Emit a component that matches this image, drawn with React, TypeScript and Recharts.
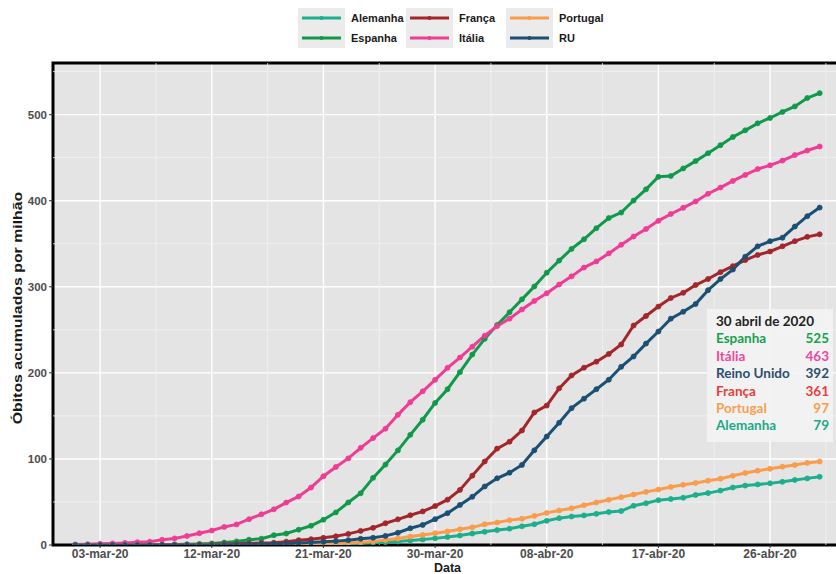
import React from "react";
import {
  CartesianGrid,
  Line,
  LineChart,
  ReferenceArea,
  ReferenceLine,
  XAxis,
  YAxis,
} from "recharts";

// one value per day, day 0 = 01-mar-2020 ... day 60 = 30-abr-2020
const ALEMANHA = [
  0, 0, 0, 0, 0, 0, 0, 0, 0.02, 0.02,
  0.04, 0.04, 0.08, 0.11, 0.13, 0.2, 0.29, 0.34, 0.53, 0.8,
  1.0, 1.13, 1.47, 1.88, 2.47, 3.2, 4.1, 5.2, 6.4, 7.7,
  9.3, 11.0, 13.3, 15.3, 17.3, 19.0, 21.7, 24.1, 28.1, 31.2,
  33.1, 34.4, 36.2, 38.3, 39.4, 45.6, 48.5, 52.1, 53.4, 54.9,
  58.2, 60.3, 63.2, 66.8, 69.0, 70.4, 71.6, 73.4, 75.6, 77.4, 79.3,
];
const ESPANHA = [
  0, 0, 0.02, 0.04, 0.06, 0.1, 0.2, 0.36, 0.6, 0.75,
  1.16, 1.84, 2.85, 4.17, 6.18, 7.3, 11.4, 13.3, 17.8, 22.3,
  29.4, 37.9, 49.4, 60.1, 78.0, 93.4, 109.9, 128.0, 145.5, 165.0,
  181.0, 200.8, 221.3, 239.5, 255.6, 270.4, 285.4, 300.4, 316.4, 330.4,
  344.0, 355.2, 368.1, 379.8, 386.2, 400.2, 413.2, 427.8, 428.7, 437.5,
  446.0, 455.2, 464.5, 474.0, 481.8, 489.9, 496.1, 503.1, 509.6, 519.3, 525.0,
];
const FRANCA = [
  0.03, 0.04, 0.06, 0.06, 0.09, 0.13, 0.16, 0.28, 0.28, 0.49,
  0.72, 0.91, 1.18, 1.36, 1.9, 2.2, 2.6, 3.9, 5.6, 6.7,
  8.4, 10.1, 12.9, 16.4, 19.9, 25.3, 29.8, 34.6, 39.0, 45.2,
  52.7, 64.0, 80.6, 97.0, 112.0, 120.0, 133.0, 154.0, 162.0, 182.0,
  197.0, 206.0, 213.0, 222.0, 233.0, 255.0, 266.0, 277.0, 287.0, 293.0,
  302.0, 309.0, 317.0, 324.0, 331.0, 337.0, 341.0, 347.0, 353.0, 358.0, 361.0,
];
const ITALIA = [
  0.56, 0.86, 1.31, 1.77, 2.45, 3.26, 3.86, 6.06, 7.67, 10.4,
  13.7, 16.8, 21.0, 23.9, 30.0, 35.7, 41.4, 49.3, 56.4, 66.8,
  79.9, 90.7, 100.6, 112.9, 124.2, 135.2, 151.2, 165.9, 178.5, 191.9,
  205.8, 217.8, 230.4, 243.1, 254.3, 263.0, 273.6, 283.6, 292.5, 302.6,
  312.1, 322.3, 329.5, 338.8, 348.8, 358.4, 367.1, 376.6, 384.6, 391.7,
  399.2, 408.1, 415.3, 423.0, 430.0, 436.8, 441.1, 446.6, 453.0, 458.3, 463.0,
];
const PORTUGAL = [
  0, 0, 0, 0, 0, 0, 0, 0, 0, 0,
  0, 0, 0, 0, 0, 0.1, 0.1, 0.2, 0.3, 0.59,
  1.18, 1.37, 2.25, 3.2, 4.2, 5.9, 7.5, 9.8, 11.7, 13.7,
  15.7, 18.3, 20.5, 24.1, 26.1, 28.9, 30.5, 33.8, 37.3, 40.1,
  42.6, 46.1, 49.4, 52.5, 55.6, 58.7, 61.7, 64.4, 67.4, 70.0,
  72.1, 74.7, 77.0, 80.4, 83.7, 86.3, 88.5, 91.0, 92.9, 95.4, 97.0,
];
const RU = [
  0, 0, 0, 0, 0.02, 0.03, 0.03, 0.05, 0.06, 0.09,
  0.12, 0.12, 0.15, 0.32, 0.53, 0.84, 1.07, 1.6, 2.2, 2.8,
  3.7, 4.5, 5.6, 7.2, 8.4, 10.6, 14.2, 19.4, 23.3, 30.0,
  37.0, 46.5, 56.0, 68.0, 77.5, 84.0, 93.0, 110.0, 126.0, 142.0,
  159.0, 170.0, 181.0, 192.0, 207.0, 219.0, 234.0, 248.0, 263.0, 271.0,
  280.0, 296.0, 309.0, 320.0, 335.0, 347.0, 353.0, 357.0, 370.0, 382.0, 392.0,
];

const X_TICKS = [2, 11, 20, 29, 38, 47, 56];
const X_LABELS = [
  "03-mar-20",
  "12-mar-20",
  "21-mar-20",
  "30-mar-20",
  "08-abr-20",
  "17-abr-20",
  "26-abr-20",
];
const X_MINOR = [6.5, 15.5, 24.5, 33.5, 42.5, 51.5, 60.5];
const Y_TICKS = [0, 100, 200, 300, 400, 500];
const Y_MINOR = [50, 150, 250, 350, 450, 550];
const X_DOMAIN: [number, number] = [-1.8, 61.8];
const Y_DOMAIN: [number, number] = [0, 560];

const SERIES = [
  { key: "alemanha", name: "Alemanha", color: "#1caf8b", values: ALEMANHA },
  { key: "espanha", name: "Espanha", color: "#10994a", values: ESPANHA },
  { key: "franca", name: "França", color: "#a3262b", values: FRANCA },
  { key: "italia", name: "Itália", color: "#ef3c95", values: ITALIA },
  { key: "portugal", name: "Portugal", color: "#f99d4c", values: PORTUGAL },
  { key: "ru", name: "RU", color: "#1b4f73", values: RU },
];

// annotation box, same order as the figure
const BOX_ROWS = [
  { label: "Espanha", color: "#17a14f", values: ESPANHA },
  { label: "Itália", color: "#ec48a0", values: ITALIA },
  { label: "Reino Unido", color: "#2c4f6d", values: RU },
  { label: "França", color: "#e6403e", values: FRANCA },
  { label: "Portugal", color: "#f6a04f", values: PORTUGAL },
  { label: "Alemanha", color: "#1ba98a", values: ALEMANHA },
];

const data = ESPANHA.map((_, day) => {
  const row: Record<string, number> = { day };
  SERIES.forEach((s) => {
    row[s.key] = s.values[day];
  });
  return row;
});

const xTickStyle = { fill: "#4d4d4d", fontSize: 12, fontWeight: 700 };
const yTickStyle = { fill: "#4d4d4d", fontSize: 11.5, fontWeight: 700 };

function LegendKeys() {
  const cols = [SERIES.slice(0, 2), SERIES.slice(2, 4), SERIES.slice(4, 6)];
  const colLeft = [298, 406, 506];
  return (
    <>
      {cols.map((col, ci) =>
        col.map((s, ri) => (
          <div
            key={s.key}
            style={{
              position: "absolute",
              left: colLeft[ci],
              top: 8 + ri * 20,
              height: 20,
              display: "flex",
              alignItems: "center",
            }}
          >
            <svg width={47} height={20} style={{ background: "#ebebeb" }}>
              <line x1={4} x2={43} y1={10} y2={10} stroke={s.color} strokeWidth={2.8} />
              <circle cx={23.5} cy={10} r={2} fill={s.color} />
            </svg>
            <span
              style={{
                marginLeft: 6,
                fontSize: 11,
                fontWeight: 700,
                color: "#1a1a1a",
              }}
            >
              {s.name}
            </span>
          </div>
        )),
      )}
    </>
  );
}

function InfoBox() {
  return (
    <div
      style={{
        position: "absolute",
        left: 707,
        top: 309,
        width: 126,
        height: 133,
        boxSizing: "border-box",
        padding: "4px 4px 0 9px",
        background: "rgba(243,243,243,0.92)",
        fontFamily: "Lato, 'Open Sans', sans-serif",
        fontWeight: 700,
        fontSize: 13.5,
        lineHeight: "17.4px",
      }}
    >
      <div style={{ color: "#222" }}>30 abril de 2020</div>
      {BOX_ROWS.map((r) => (
        <div
          key={r.label}
          style={{ display: "flex", justifyContent: "space-between", color: r.color }}
        >
          <span>{r.label}</span>
          <span>{Math.round(r.values[r.values.length - 1])}</span>
        </div>
      ))}
    </div>
  );
}

export default function App() {
  return (
    <div
      style={{
        position: "fixed",
        left: 0,
        top: 0,
        width: 836,
        height: 574,
        overflow: "hidden",
        background: "#fff",
        fontFamily: "'Liberation Sans', Arial, sans-serif",
      }}
    >
      <LegendKeys />
      <div
        style={{
          position: "absolute",
          left: 17,
          top: 308,
          transform: "translate(-50%, -50%) rotate(-90deg) scaleX(1.22)",
          whiteSpace: "nowrap",
          fontSize: 13,
          fontWeight: 700,
          color: "#1a1a1a",
        }}
      >
        Óbitos acumulados por milhão
      </div>
      <div style={{ position: "absolute", left: 0, top: 0 }}>
        <LineChart
          width={860}
          height={574}
          data={data}
          margin={{ top: 63, right: 18, bottom: 0, left: 8 }}
        >
          <CartesianGrid fill="#e4e4e4" stroke="#ffffff" strokeWidth={1.4} />
          {X_MINOR.map((x) => (
            <ReferenceLine key={`vx${x}`} x={x} stroke="#f3f3f3" strokeWidth={0.8} />
          ))}
          {Y_MINOR.map((y) => (
            <ReferenceLine key={`hy${y}`} y={y} stroke="#f3f3f3" strokeWidth={0.8} />
          ))}
          <XAxis
            type="number"
            dataKey="day"
            domain={X_DOMAIN}
            ticks={X_TICKS}
            tickFormatter={(v) => X_LABELS[X_TICKS.indexOf(v)]}
            allowDataOverflow
            axisLine={false}
            tickLine={{ stroke: "#333" }}
            tickSize={3}
            tickMargin={1}
            height={29}
            tick={xTickStyle}
            label={{
              value: "Data",
              position: "insideBottom",
              offset: 2,
              style: { fill: "#1a1a1a", fontSize: 12.5, fontWeight: 700 },
            }}
          />
          <YAxis
            type="number"
            domain={Y_DOMAIN}
            ticks={Y_TICKS}
            allowDataOverflow
            axisLine={false}
            tickLine={{ stroke: "#333" }}
            tickSize={4}
            tickMargin={2}
            width={45}
            tick={yTickStyle}
          />
          {SERIES.map((s) => (
            <Line
              key={s.key}
              type="linear"
              dataKey={s.key}
              name={s.name}
              stroke={s.color}
              strokeWidth={3}
              dot={{ r: 2.5, fill: s.color, stroke: s.color, strokeWidth: 0.8 }}
              isAnimationActive={false}
            />
          ))}
          <ReferenceArea
            x1={X_DOMAIN[0]}
            x2={X_DOMAIN[1]}
            y1={Y_DOMAIN[0]}
            y2={Y_DOMAIN[1]}
            fill="none"
            stroke="#000"
            strokeWidth={3}
          />
        </LineChart>
      </div>
      <InfoBox />
    </div>
  );
}
